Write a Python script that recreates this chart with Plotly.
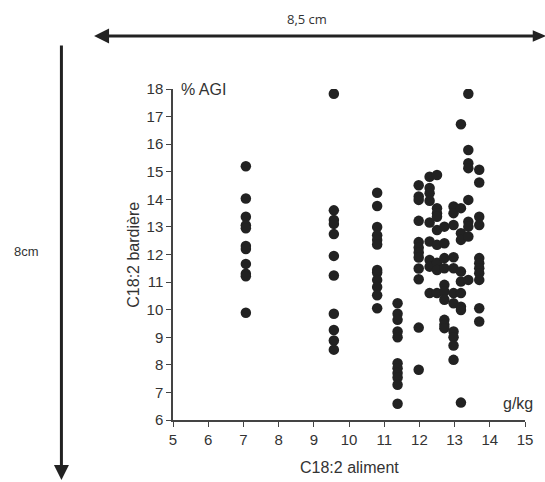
import plotly.graph_objects as go

# feed C18:2 level (g/kg) -> measured backfat C18:2 (% AGI)
aliment_x = [7.07, 9.57, 10.80, 11.38, 11.98, 12.29, 12.50, 12.71, 12.97, 13.18, 13.39, 13.70]
bardiere_y = [
    [15.2, 14.03, 13.37, 13.06, 12.95, 12.31, 12.2, 11.66, 11.3, 11.21, 9.89],
    [17.83, 13.6, 13.25, 13.11, 12.74, 11.95, 11.24, 9.85, 9.26, 8.88, 8.55],
    [14.24, 13.76, 13.0, 12.7, 12.53, 12.36, 11.44, 11.35, 11.08, 10.82, 10.52, 10.05],
    [10.23, 9.85, 9.63, 9.21, 9.0, 8.06, 7.88, 7.7, 7.54, 7.28, 6.59],
    [14.51, 14.1, 13.98, 13.22, 12.45, 12.25, 12.07, 11.89, 11.49, 11.1, 9.35, 7.82],
    [14.82, 14.41, 14.22, 13.95, 13.16, 12.47, 11.8, 11.56, 10.6],
    [14.88, 13.68, 13.5, 13.37, 12.89, 12.35, 11.7, 11.44, 10.6],
    [13.01, 12.41, 11.87, 11.5, 10.9, 10.66, 10.36, 9.63, 9.45, 9.33],
    [13.74, 13.5, 13.07, 11.9, 11.5, 10.6, 10.23, 9.21, 9.0, 8.7, 8.18],
    [16.72, 13.68, 12.77, 12.53, 11.38, 11.02, 10.6, 10.11, 9.99, 6.63],
    [17.83, 15.79, 15.31, 15.13, 13.98, 13.19, 13.01, 12.65, 11.08],
    [15.07, 14.61, 13.37, 13.07, 11.87, 11.68, 11.5, 11.32, 11.08, 10.05, 9.57],
]

xs, ys = [], []
for xv, col in zip(aliment_x, bardiere_y):
    for yv in col:
        xs.append(xv)
        ys.append(yv)

fig = go.Figure(go.Scatter(
    x=xs, y=ys, mode="markers",
    marker=dict(size=10.5, color="#222222", line=dict(width=0)),
    hoverinfo="x+y"))

axis_font = dict(family="Liberation Sans, Arial", size=15, color="#333333")

fig.update_layout(
    width=545, height=482,
    margin=dict(l=173, r=17, t=89, b=62),
    paper_bgcolor="white", plot_bgcolor="white",
    showlegend=False,
    xaxis=dict(range=[5, 15], dtick=1, showgrid=False, zeroline=False,
               showline=True, linecolor="#444444", linewidth=1.5,
               ticks="outside", ticklen=5, tickcolor="#444444",
               tickfont=axis_font, fixedrange=True),
    yaxis=dict(range=[6, 18], dtick=1, showgrid=False, zeroline=False,
               showline=True, linecolor="#444444", linewidth=1.5,
               ticks="outside", ticklen=5, tickcolor="#444444",
               tickfont=axis_font, fixedrange=True),
)

lbl = dict(family="Liberation Sans, Arial", size=16, color="#333333")

# axis titles and units
fig.add_annotation(text="C18:2 aliment", xref="paper", yref="paper", x=0.5, y=-0.142,
                   showarrow=False, xanchor="center", yanchor="middle", font=lbl)
fig.add_annotation(text="C18:2 bardière", xref="paper", yref="paper", x=-0.113, y=0.5,
                   showarrow=False, textangle=-90, xanchor="center", yanchor="middle", font=lbl)
fig.add_annotation(text="% AGI", xref="paper", yref="paper", x=0.017, y=1.0,
                   showarrow=False, xanchor="left", yanchor="middle", font=lbl)
fig.add_annotation(text="g/kg", xref="paper", yref="paper", x=1.027, y=0.018,
                   showarrow=False, xanchor="right", yanchor="bottom", font=lbl)

# size indications (arrows)
fig.add_annotation(x=1.03, y=1.160, xref="paper", yref="paper", ax=-443, ay=0,
                   axref="pixel", ayref="pixel", text="", showarrow=True,
                   arrowhead=2, startarrowhead=2, arrowside="start",
                   arrowsize=1, arrowwidth=3, arrowcolor="#222222")
# right arrow head, partly cut by the page edge
fig.add_shape(type="path", xref="paper", yref="paper",
              path="M 1.022 1.1425 L 1.060 1.160 L 1.022 1.1775 Z",
              fillcolor="#222222", line=dict(width=0))
fig.add_annotation(text="8,5 cm", xref="paper", yref="paper", x=0.381, y=1.211,
                   showarrow=False, xanchor="center", yanchor="middle",
                   font=dict(family="Open Sans, Noto Sans", size=13, color="#333333"))
fig.add_annotation(x=-0.317, y=-0.181, xref="paper", yref="paper", ax=0, ay=-436,
                   axref="pixel", ayref="pixel", text="", showarrow=True,
                   arrowhead=2, arrowsize=1, arrowwidth=3, arrowcolor="#222222")
fig.add_annotation(text="8cm", xref="paper", yref="paper", x=-0.416, y=0.51,
                   showarrow=False, xanchor="center", yanchor="middle",
                   font=dict(family="Liberation Sans, Arial", size=13, color="#333333"))

fig.write_html("out.html", config={"displayModeBar": False},
               post_script="document.body.style.margin='0';")
